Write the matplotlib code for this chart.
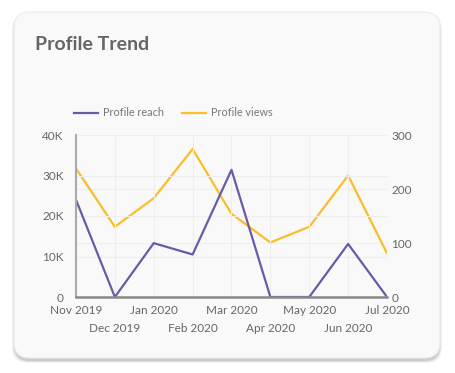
import matplotlib

matplotlib.use("Agg")

import matplotlib.pyplot as plt
from matplotlib.patches import FancyBboxPatch

months = [
    "Nov 2019", "Dec 2019", "Jan 2020", "Feb 2020", "Mar 2020",
    "Apr 2020", "May 2020", "Jun 2020", "Jul 2020",
]
profile_reach = [24000, 0, 13300, 10500, 31400, 0, 0, 13100, 0]
profile_views = [238, 130, 183, 274, 154, 101, 130, 225, 81]
reach_ticks = [0, 10000, 20000, 30000, 40000]
reach_tick_labels = ["0", "10K", "20K", "30K", "40K"]
views_ticks = [0, 100, 200, 300]

W, H = 456, 373
REACH_COLOR = "#6a5aa8"
VIEWS_COLOR = "#fbbd2a"
TEXT_COLOR = "#666666"

plt.rcParams["font.family"] = ["Lato", "DejaVu Sans"]

fig = plt.figure(figsize=(W / 100, H / 100), dpi=100)
fig.patch.set_facecolor("white")

# card with a soft shadow
for i, alpha in enumerate([0.05, 0.07, 0.09]):
    off = 3 - i
    shadow = FancyBboxPatch(
        ((14 - off + 1) / W, 1 - (360 + off) / H), (426 + 2 * off - 2) / W, (346 + off) / H,
        boxstyle="round,pad=0,rounding_size=0.035",
        transform=fig.transFigure, facecolor="black", edgecolor="none", alpha=alpha,
        mutation_aspect=W / H, zorder=-3,
    )
    fig.patches.append(shadow)
card = FancyBboxPatch(
    (14 / W, 1 - 358 / H), 426 / W, 346 / H,
    boxstyle="round,pad=0,rounding_size=0.035",
    transform=fig.transFigure, facecolor="#f9f9f9", edgecolor="#ececec", linewidth=0.8,
    mutation_aspect=W / H, zorder=-2,
)
fig.patches.append(card)

fig.text(35 / W, 1 - 45 / H, "Profile Trend", fontsize=14, fontweight="bold",
         color=TEXT_COLOR, va="center", ha="left")

ax = fig.add_axes([76 / W, 1 - 297 / H, (387 - 76) / W, (297 - 135) / H])
x = list(range(len(months)))

ax2 = ax.twinx()
line_views, = ax2.plot(x, profile_views, color=VIEWS_COLOR, linewidth=1.6, label="Profile views")
ax2.set_ylim(0, 300)
ax2.set_yticks(views_ticks)

line_reach, = ax.plot(x, profile_reach, color=REACH_COLOR, linewidth=1.6, label="Profile reach")
ax.set_ylim(0, 40000)
ax.set_xlim(0, len(months) - 1)
ax.set_yticks(reach_ticks)
ax.set_yticklabels(reach_tick_labels)

# staggered month labels: even ones on the first row, odd ones below
ax.set_xticks(x[::2])
ax.set_xticklabels(months[::2])
ax.set_xticks(x[1::2], minor=True)
ax.set_xticklabels(months[1::2], minor=True)

for a in (ax, ax2):
    for side in ("top", "right", "left", "bottom"):
        a.spines[side].set_visible(False)
    a.tick_params(which="both", length=0, labelsize=8.5, colors=TEXT_COLOR)

ax.tick_params(axis="y", pad=9)
ax2.tick_params(axis="y", pad=3)
ax.tick_params(axis="x", which="major", pad=6)
ax.tick_params(axis="x", which="minor", pad=18.5)
ax.spines["left"].set_visible(True)
ax.spines["left"].set_color("#aaaaaa")
ax.spines["left"].set_linewidth(1.5)
ax.spines["bottom"].set_visible(True)
ax.spines["bottom"].set_color("#888888")
ax.spines["bottom"].set_linewidth(1.8)

ax.set_zorder(2)
ax.patch.set_visible(False)
ax2.set_zorder(1)
ax2.patch.set_visible(False)

ax.grid(True, which="both", color="#eeeeee", linewidth=0.8)
ax2.grid(True, axis="y", color="#f0f0f0", linewidth=0.8)
ax.set_axisbelow(True)

fig.legend(
    handles=[line_reach, line_views],
    loc="center left", bbox_to_anchor=(70 / W, 1 - 113 / H),
    ncol=2, frameon=False, fontsize=7.8, labelcolor="#777777",
    handlelength=2.2, handletextpad=0.45, columnspacing=1.7, borderaxespad=0,
)

fig.savefig("out.png", dpi=100)
plt.close(fig)
